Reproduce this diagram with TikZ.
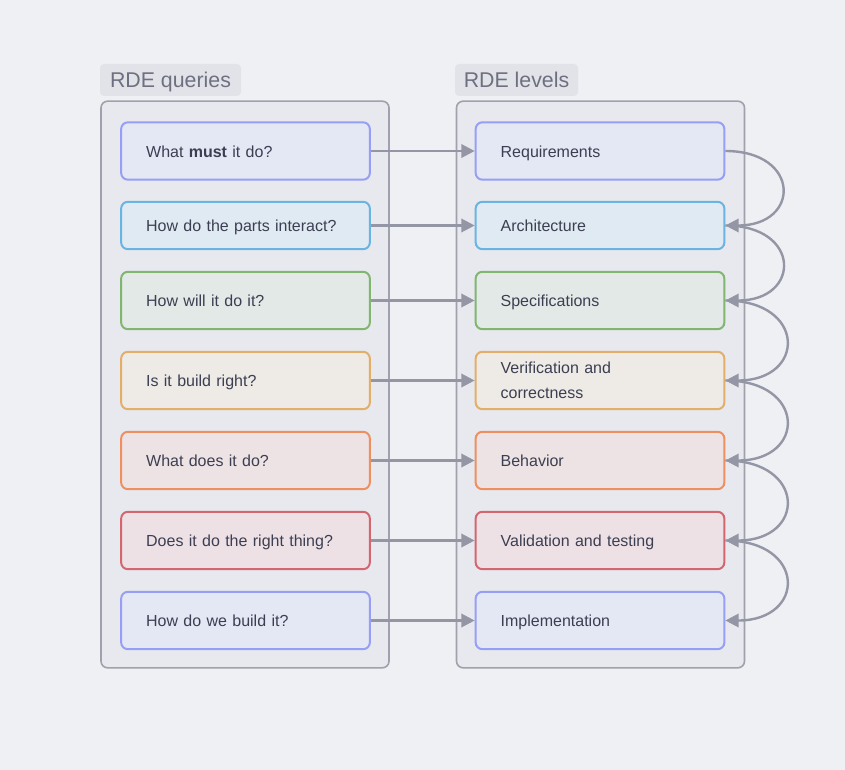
\documentclass[tikz,border=0pt]{standalone}
\usepackage{fontspec}
\setmainfont{Liberation Sans}
\usepackage{xcolor}
\usetikzlibrary{arrows.meta,positioning}
\definecolor{bgcol}{HTML}{EEF0F4}
\definecolor{groupfill}{HTML}{E7E9EE}
\definecolor{groupline}{HTML}{9FA1AD}
\definecolor{titlefill}{HTML}{E1E3E9}
\definecolor{titletext}{HTML}{6E7081}
\definecolor{textcol}{HTML}{3C3F52}
\definecolor{linkcol}{HTML}{9496A5}
\definecolor{violetline}{HTML}{979FF4}
\definecolor{violetfill}{HTML}{E4E7F4}
\definecolor{blueline}{HTML}{6AB3E2}
\definecolor{bluefill}{HTML}{E0EAF2}
\definecolor{greenline}{HTML}{80B66F}
\definecolor{greenfill}{HTML}{E3E9E7}
\definecolor{yellowline}{HTML}{E2AE6A}
\definecolor{yellowfill}{HTML}{EEEAE6}
\definecolor{orangeline}{HTML}{EE8F62}
\definecolor{orangefill}{HTML}{EEE3E4}
\definecolor{redline}{HTML}{D3676F}
\definecolor{redfill}{HTML}{EDE1E6}
\tikzset{%
    >={Triangle[length=10pt,width=10pt]},
    % Specifications for style of nodes:
    group/.style = {
        rectangle, rounded corners=5pt, draw=groupline, line width=1.2pt,
        fill=groupfill, minimum width=216pt, minimum height=425pt
    },
    title/.style = {
        rectangle, rounded corners=3pt, fill=titlefill, text=titletext,
        font=\fontsize{16pt}{19pt}\selectfont,
        text height=14pt, text depth=3pt, inner ysep=0pt,
        minimum width=105.75pt, minimum height=24pt
    },
    base/.style = {
        rectangle, rounded corners=5pt, line width=1.5pt,
        minimum width=186.5pt, minimum height=43pt,
        text width=149pt, inner xsep=18.75pt, align=left,
        text height=11.5pt, text depth=2.5pt,
        text=textcol, font=\fontsize{12pt}{18.75pt}\selectfont
    },
    twoline/.style = {text height=, text depth=},
    violet/.style = {base, draw=violetline, fill=violetfill},
    blue/.style = {base, draw=blueline, fill=bluefill, minimum height=35.5pt},
    green/.style = {base, draw=greenline, fill=greenfill},
    yellow/.style = {base, draw=yellowline, fill=yellowfill},
    orange/.style = {base, draw=orangeline, fill=orangefill},
    red/.style = {base, draw=redline, fill=redfill},
    link/.style = {->, draw=linkcol, line width=1.8pt}
}
\begin{document}
\begin{tikzpicture}[x=0.75pt, y=-0.75pt]
    \useasboundingbox[fill=bgcol] (0,0) rectangle (845,770);
    % containers
    \node[group] (queries) at (245,384.5) {};
    \node[group] (levels) at (600.5,384.5) {};
    \node[title] (qtitle) at (170.5,80) {RDE queries};
    \node[title, minimum width=92.25pt] (ltitle) at (516.5,80) {RDE levels};
    % queries
    \node[violet] (q1) at (245.5,151) {What \textbf{must} it do?};
    \node[blue] (q2) at (245.5,225.5) {How do the parts interact?};
    \node[green] (q3) at (245.5,300.5) {How will it do it?};
    \node[yellow] (q4) at (245.5,380.5) {Is it build right?};
    \node[orange] (q5) at (245.5,460.5) {What does it do?};
    \node[red] (q6) at (245.5,540.5) {Does it do the right thing?};
    \node[violet] (q7) at (245.5,620.5) {How do we build it?};
    % levels
    \node[violet] (l1) at (600,151) {Requirements};
    \node[blue] (l2) at (600,225.5) {Architecture};
    \node[green] (l3) at (600,300.5) {Specifications};
    \node[yellow, twoline] (l4) at (600,380.5) {Verification and\\correctness};
    \node[orange] (l5) at (600,460.5) {Behavior};
    \node[red] (l6) at (600,540.5) {Validation and testing};
    \node[violet] (l7) at (600,620.5) {Implementation};
    % query to level
    \foreach \i in {1,...,7}
        \draw[link] (q\i.east) -- (l\i.west);
    % level to next level
    \foreach \i/\j in {1/2,2/3,3/4,4/5,5/6,6/7}
        \draw[link] (l\i.east) to[out=0, in=0, looseness=2.6] (l\j.east);
\end{tikzpicture}
\end{document}
